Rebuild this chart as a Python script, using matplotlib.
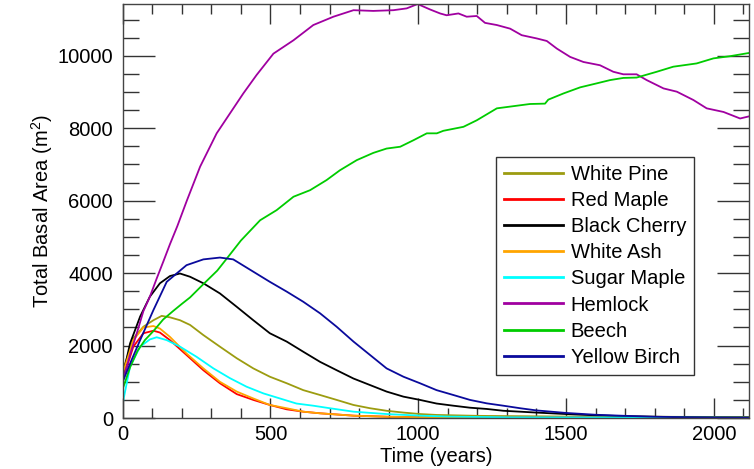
import matplotlib
matplotlib.use("Agg")
import matplotlib.pyplot as plt
from matplotlib.ticker import MultipleLocator

plt.rcParams['font.family'] = ['Liberation Sans', 'DejaVu Sans']
plt.rcParams['mathtext.fontset'] = 'custom'
plt.rcParams['mathtext.rm'] = 'Liberation Sans'
plt.rcParams['mathtext.it'] = 'Liberation Sans:italic'

# Basal area trajectories per species (years, m^2)
white_pine_t = [0, 36, 70, 104, 132, 160, 194, 228, 273, 329, 386, 442, 498, 555, 611, 668,
                724, 781, 837, 893, 950, 1006, 1062, 1200, 1500, 2000, 2120]
white_pine_v = [1300, 2200, 2520, 2700, 2820, 2780, 2700, 2570, 2290, 1970, 1650, 1370, 1140,
                960, 770, 635, 500, 360, 270, 200, 150, 110, 85, 60, 40, 30, 30]

red_maple_t = [0, 36, 70, 104, 126, 160, 216, 273, 329, 386, 442, 498, 555, 611, 668, 781,
               900, 1000, 1200, 2120]
red_maple_v = [1050, 1970, 2340, 2410, 2360, 2150, 1740, 1320, 960, 660, 500, 360, 240, 175,
               130, 65, 35, 25, 15, 8]

black_cherry_t = [0, 25, 59, 92, 126, 160, 194, 228, 273, 329, 386, 442, 498, 555, 611, 668,
                  724, 781, 837, 893, 950, 1006, 1062, 1119, 1175, 1232, 1288, 1345, 1400,
                  1500, 1600, 1700, 1800, 2000, 2120]
black_cherry_v = [1150, 2060, 2800, 3350, 3720, 3920, 3990, 3900, 3720, 3440, 3070, 2700, 2340,
                  2110, 1830, 1550, 1320, 1090, 910, 730, 590, 500, 400, 340, 285, 250, 200,
                  175, 150, 110, 75, 50, 35, 20, 15]

white_ash_t = [0, 36, 70, 104, 126, 160, 216, 273, 329, 386, 442, 498, 555, 611, 668, 781,
               893, 1000, 1200, 2120]
white_ash_v = [1230, 2150, 2500, 2540, 2470, 2240, 1780, 1370, 1000, 730, 540, 360, 270, 175,
               130, 65, 35, 20, 10, 5]

sugar_maple_t = [0, 25, 59, 92, 115, 149, 194, 250, 307, 363, 419, 476, 532, 588, 645, 701,
                 781, 893, 1006, 1100, 1300, 2120]
sugar_maple_v = [400, 1420, 1970, 2170, 2230, 2150, 1970, 1690, 1370, 1100, 865, 680, 540, 400,
                 340, 270, 175, 110, 65, 40, 20, 10]

hemlock_t = [0, 25, 50, 70, 92, 115, 138, 160, 185, 217, 262, 318, 363, 408, 453, 510, 578,
             645, 713, 781, 848, 916, 961, 998, 1040, 1074, 1096, 1136, 1164, 1198, 1226, 1266,
             1311, 1350, 1401, 1435, 1469, 1514, 1559, 1615, 1660, 1694, 1739, 1773, 1830,
             1875, 1931, 1976, 2033, 2089, 2120]
hemlock_v = [1000, 1750, 2400, 2950, 3350, 3850, 4330, 4800, 5300, 6000, 6940, 7860, 8410, 8960,
             9470, 10060, 10430, 10850, 11080, 11260, 11240, 11260, 11310, 11430, 11280, 11170,
             11120, 11170, 11080, 11100, 10910, 10850, 10750, 10570, 10480, 10410, 10200, 9970,
             9830, 9740, 9560, 9490, 9490, 9330, 9100, 9010, 8780, 8550, 8450, 8270, 8330]

beech_t = [0, 25, 50, 75, 104, 137, 170, 200, 228, 276, 320, 352, 400, 465, 521, 578, 634, 690,
           735, 792, 848, 893, 939, 984, 1029, 1063, 1085, 1153, 1198, 1266, 1322, 1378, 1429,
           1440, 1491, 1548, 1604, 1649, 1694, 1739, 1807, 1863, 1942, 1999, 2055, 2120]
beech_v = [800, 1400, 1850, 2150, 2400, 2720, 2950, 3150, 3330, 3720, 4070, 4400, 4900, 5460,
           5740, 6110, 6290, 6570, 6840, 7120, 7320, 7440, 7490, 7670, 7860, 7860, 7930, 8040,
           8220, 8550, 8610, 8670, 8680, 8790, 8960, 9130, 9240, 9330, 9390, 9400, 9560, 9700,
           9790, 9930, 9990, 10080]

yellow_birch_t = [0, 30, 59, 104, 149, 216, 273, 329, 374, 442, 498, 555, 611, 668, 724, 781,
                  837, 893, 950, 1006, 1062, 1119, 1175, 1232, 1288, 1345, 1400, 1500, 1600,
                  1700, 1800, 1900, 2000, 2120]
yellow_birch_v = [1000, 1600, 2150, 2980, 3760, 4220, 4380, 4430, 4380, 4040, 3760, 3490, 3210,
                  2890, 2520, 2110, 1740, 1370, 1140, 960, 770, 635, 500, 405, 340, 270, 210,
                  140, 90, 60, 35, 20, 12, 8]

species = ["White Pine", "Red Maple", "Black Cherry", "White Ash",
           "Sugar Maple", "Hemlock", "Beech", "Yellow Birch"]
series = [(white_pine_t, white_pine_v), (red_maple_t, red_maple_v),
          (black_cherry_t, black_cherry_v), (white_ash_t, white_ash_v),
          (sugar_maple_t, sugar_maple_v), (hemlock_t, hemlock_v),
          (beech_t, beech_v), (yellow_birch_t, yellow_birch_v)]
colors = ["#9c9c10", "#ff0000", "#000000", "#ffa500",
          "#00ffff", "#a000a0", "#00cc00", "#0a0a9c"]

fig = plt.figure(figsize=(7.54, 4.69), dpi=100)
ax = fig.add_axes([0.1627, 0.1087, 0.8310, 0.8827])

for name, (t, v), c in zip(species, series, colors):
    ax.plot(t, v, color=c, lw=1.3, label=name)

ax.set_xlim(0, 2120)
ax.set_ylim(0, 11430)
ax.xaxis.set_major_locator(MultipleLocator(500))
ax.xaxis.set_minor_locator(MultipleLocator(100))
ax.yaxis.set_major_locator(MultipleLocator(2000))
ax.yaxis.set_minor_locator(MultipleLocator(500))

ax.tick_params(axis='both', which='both', direction='in', top=True, right=True,
               color='#333333', width=1.0, labelsize=14.5)
ax.tick_params(axis='x', which='major', length=14.5, pad=5)
ax.tick_params(axis='x', which='minor', length=7)
ax.tick_params(axis='y', which='major', length=23, pad=7)
ax.tick_params(axis='y', which='minor', length=11.5)
for s in ax.spines.values():
    s.set_color('#444444')
    s.set_linewidth(1.0)

ax.set_xlabel("Time (years)", fontsize=14.5, labelpad=2)
ax.set_ylabel(r"Total Basal Area (m$^{2}$)", fontsize=14.5, labelpad=2)

leg = ax.legend(loc='upper left', bbox_to_anchor=(0.596, 0.630), borderaxespad=0,
                fontsize=14.5, handlelength=2.9, handletextpad=0.4,
                labelspacing=0.35, borderpad=0.4, fancybox=False, framealpha=1)
leg.get_frame().set_edgecolor('#333333')
leg.get_frame().set_linewidth(1.0)
for line in leg.get_lines():
    line.set_linewidth(2.0)

fig.savefig("out.png", dpi=100)
